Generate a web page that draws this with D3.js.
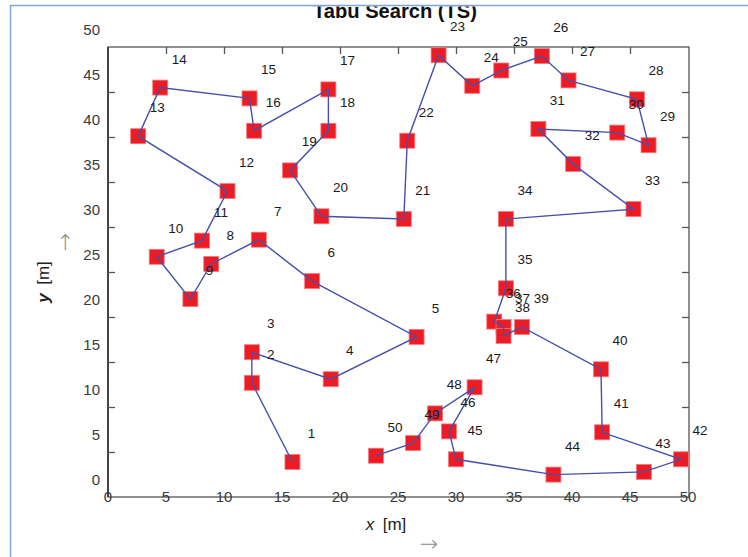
<!DOCTYPE html>
<html>
<head>
<meta charset="utf-8">
<script src="https://cdn.jsdelivr.net/npm/d3@7"></script>
<style>
  body { margin: 0; background: #fff; }
  svg { display: block; font-family: "Liberation Sans", Arial, sans-serif; }
</style>
</head>
<body>
<div id="chart"></div>
<script>
// city coordinates in visiting order (city i = index + 1)
const cityX = [15.9, 12.4, 12.4, 19.2, 26.6, 17.6, 13.0, 8.9, 7.1, 4.2,
  8.1, 10.3, 2.6, 4.5, 12.2, 12.6, 19.0, 19.0, 15.7, 18.4,
  25.5, 25.8, 28.5, 31.4, 33.9, 37.4, 39.7, 45.6, 46.6, 43.9,
  37.1, 40.1, 45.3, 34.3, 34.3, 33.3, 34.1, 34.1, 35.7, 42.5,
  42.6, 49.4, 46.2, 38.4, 30.0, 29.4, 31.6, 28.2, 26.3, 23.1];
const cityY = [2.0, 10.8, 14.2, 11.2, 15.9, 22.1, 26.7, 24.0, 20.1, 24.8,
  26.6, 32.1, 38.2, 43.6, 42.4, 38.8, 43.4, 38.8, 34.4, 29.3,
  29.0, 37.7, 47.2, 43.8, 45.5, 47.1, 44.4, 42.3, 37.2, 38.6,
  39.0, 35.1, 30.1, 29.0, 21.3, 17.6, 17.0, 16.0, 17.0, 12.3,
  5.3, 2.3, 0.9, 0.6, 2.3, 5.4, 10.3, 7.4, 4.1, 2.7];
const cityLabels = cityX.map((d, i) => String(i + 1));
const tickValues = [0, 5, 10, 15, 20, 25, 30, 35, 40, 45, 50];

const width = 748, height = 557;
const box = { left: 108, right: 689, top: 47, bottom: 497 };

const svg = d3.select("#chart").append("svg")
  .attr("width", width).attr("height", height);

// figure border
svg.append("path")
  .attr("d", `M10.5,${height} V5.5 H${width}`)
  .attr("fill", "none").attr("stroke", "#7ea7d9").attr("stroke-width", 1.5);

const x = d3.scaleLinear().domain([0, 50]).range([box.left, box.right - 1]);
const y = d3.scaleLinear().domain([0, 50]).range([480, 30]);   // data + labels
const yTick = d3.scaleLinear().domain([0, 50]).range([box.bottom, box.top]); // tick marks

// title (clipped under the border)
svg.append("clipPath").attr("id", "clipTop")
  .append("rect").attr("x", 0).attr("y", 6.5).attr("width", width).attr("height", 40);
svg.append("text")
  .attr("clip-path", "url(#clipTop)")
  .attr("x", 395).attr("y", 17.5)
  .attr("text-anchor", "middle")
  .attr("font-size", 20).attr("font-weight", "bold")
  .attr("textLength", 164).attr("lengthAdjust", "spacingAndGlyphs")
  .attr("fill", "#111")
  .text("Tabu Search (TS)");

// frame
svg.append("rect")
  .attr("x", box.left).attr("y", box.top)
  .attr("width", box.right - box.left).attr("height", box.bottom - box.top)
  .attr("fill", "none").attr("stroke", "#555").attr("stroke-width", 1.3);
svg.append("line")
  .attr("x1", box.left).attr("x2", box.left).attr("y1", box.top).attr("y2", box.bottom)
  .attr("stroke", "#444").attr("stroke-width", 2);

// tick marks (inward)
const inner = tickValues.slice(1, -1);
svg.append("g").attr("transform", `translate(0,${box.top})`)
  .call(d3.axisBottom(x).tickValues(inner).tickSize(7).tickFormat(""))
  .call(g => g.select(".domain").remove())
  .selectAll("line").attr("stroke", "#555").attr("stroke-width", 1.3);
svg.append("g").attr("transform", `translate(${box.left},0)`)
  .call(d3.axisRight(yTick).tickValues(inner).tickSize(7).tickFormat(""))
  .call(g => g.select(".domain").remove())
  .selectAll("line").attr("stroke", "#555").attr("stroke-width", 1.3);
svg.append("g").attr("transform", `translate(${box.right},0)`)
  .call(d3.axisLeft(yTick).tickValues(inner).tickSize(7).tickFormat(""))
  .call(g => g.select(".domain").remove())
  .selectAll("line").attr("stroke", "#555").attr("stroke-width", 1.3);

// tick labels
svg.append("g").selectAll("text").data(tickValues).join("text")
  .attr("x", 100).attr("y", d => y(d)).attr("dy", "0.35em")
  .attr("text-anchor", "end").attr("font-size", 15).attr("fill", "#3a3a3a")
  .text(d => d);
svg.append("g").selectAll("text").data(tickValues).join("text")
  .attr("x", d => x(d)).attr("y", box.bottom).attr("dy", "0.36em")
  .attr("text-anchor", "middle").attr("font-size", 15).attr("fill", "#3a3a3a")
  .text(d => d);

// axis labels
const xl = svg.append("text").attr("x", 386).attr("y", 530)
  .attr("text-anchor", "middle").attr("font-size", 17).attr("fill", "#222");
xl.append("tspan").attr("font-style", "italic").text("x");
xl.append("tspan").text("\u2002[m]");
svg.append("text").attr("x", 429).attr("y", 551)
  .attr("text-anchor", "middle").attr("font-size", 22).attr("fill", "#8a8a8a")
  .style("font-family", "'DejaVu Sans', sans-serif").attr("font-weight", 200)
  .text("\u2192");

const yl = svg.append("text").attr("transform", "translate(49,282) rotate(-90)")
  .attr("text-anchor", "middle").attr("font-size", 17).attr("fill", "#222");
yl.append("tspan").attr("font-style", "italic").attr("font-weight", "bold").text("y");
yl.append("tspan").text("\u2002[m]");
svg.append("text").attr("transform", "translate(72,242) rotate(-90)")
  .attr("text-anchor", "middle").attr("font-size", 22).attr("fill", "#8a8a8a")
  .style("font-family", "'DejaVu Sans', sans-serif").attr("font-weight", 200)
  .text("\u2192");

const cities = cityX.map((cx, i) => ({ x: cx, y: cityY[i], label: cityLabels[i] }));

// markers
svg.append("g").selectAll("rect").data(cities).join("rect")
  .attr("x", d => x(d.x) - 7.5).attr("y", d => y(d.y) - 7.5)
  .attr("width", 15).attr("height", 15)
  .attr("fill", "#ed1c24").attr("stroke", "#f37a80").attr("stroke-width", 0.8);

// route
svg.append("path").datum(cities)
  .attr("d", d3.line().x(d => x(d.x)).y(d => y(d.y)))
  .attr("fill", "none").attr("stroke", "#4650a8").attr("stroke-width", 1.4);

// city labels (offset from each city)
svg.append("g").selectAll("text").data(cities).join("text")
  .attr("x", d => x(d.x + 1.64)).attr("y", d => y(d.y + 3.2)).attr("dy", "0.35em")
  .attr("text-anchor", "middle").attr("font-size", 13.5).attr("fill", "#1a1a1a")
  .text(d => d.label);
</script>
</body>
</html>
